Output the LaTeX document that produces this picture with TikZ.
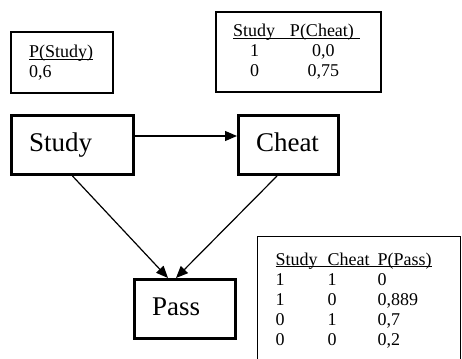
\documentclass[tikz,border=0pt]{standalone}
\usepackage{fontspec}
\setmainfont{Liberation Serif}
\usetikzlibrary{arrows.meta}

\begin{document}
\begin{tikzpicture}[
			x=1pt, y=-1pt,
			varnode/.style={draw, rectangle, line width=3pt, align=left, inner xsep=17.5pt, text height=19pt, text depth=6pt, minimum height=59pt, font=\fontsize{27}{30}\selectfont},
			cpt/.style={draw, rectangle, line width=1.2pt, align=left, font=\fontsize{18}{20}\selectfont},
			arrow/.style={-{Triangle[length=12pt,width=10pt]}, line width=1.2pt}
			]
			\clip (0,0) rectangle (462,358);
			
			% Nodes
			\node (study) [varnode, text width=87pt] at (72.5,145) {Study};
			\node (cheat) [varnode, text width=65pt] at (288.5,145) {Cheat};
			\node (pass) [varnode, text width=66pt] at (185,309) {Pass};
			
			% Tables
			\node (pstudy) [cpt, text width=66pt, inner xsep=18pt, minimum height=61pt] at (62,62.5) {\underline{\smash{P(Study)}}\vphantom{P(}\\0,6};
			\node (pcheat) [cpt, text width=131pt, inner xsep=17pt, minimum height=80pt] at (298.5,52)
				{\underline{\smash{\makebox[57pt][l]{Study}P(Cheat)\hspace{6pt}}}\vphantom{P(}\\
				 \makebox[43pt]{1}\hspace{14pt}\makebox[67pt]{0,0}\\
				 \makebox[43pt]{0}\hspace{14pt}\makebox[67pt]{0,75}};
			\node (ppass) [cpt, text width=167pt, inner xsep=18pt, inner ysep=16pt, anchor=north west] at (257,236)
				{\underline{\smash{\makebox[52pt][l]{Study}\makebox[50pt][l]{Cheat}P(Pass)}}\vphantom{P(}\\
				 \makebox[52pt][l]{1}\makebox[50pt][l]{1}0\\
				 \makebox[52pt][l]{1}\makebox[50pt][l]{0}0,889\\
				 \makebox[52pt][l]{0}\makebox[50pt][l]{1}0,7\\
				 \makebox[52pt][l]{0}\makebox[50pt][l]{0}0,2\\[30pt]};
			
			% Connections
			\draw [arrow] ([yshift=9pt]study.east) -- ([yshift=9pt]cheat.west);
			\draw [arrow] (study.south) -- ([xshift=-17pt]pass.north);
			\draw [arrow] ([xshift=-11.5pt]cheat.south) -- ([xshift=-9pt]pass.north);
			
		\end{tikzpicture}
\end{document}
